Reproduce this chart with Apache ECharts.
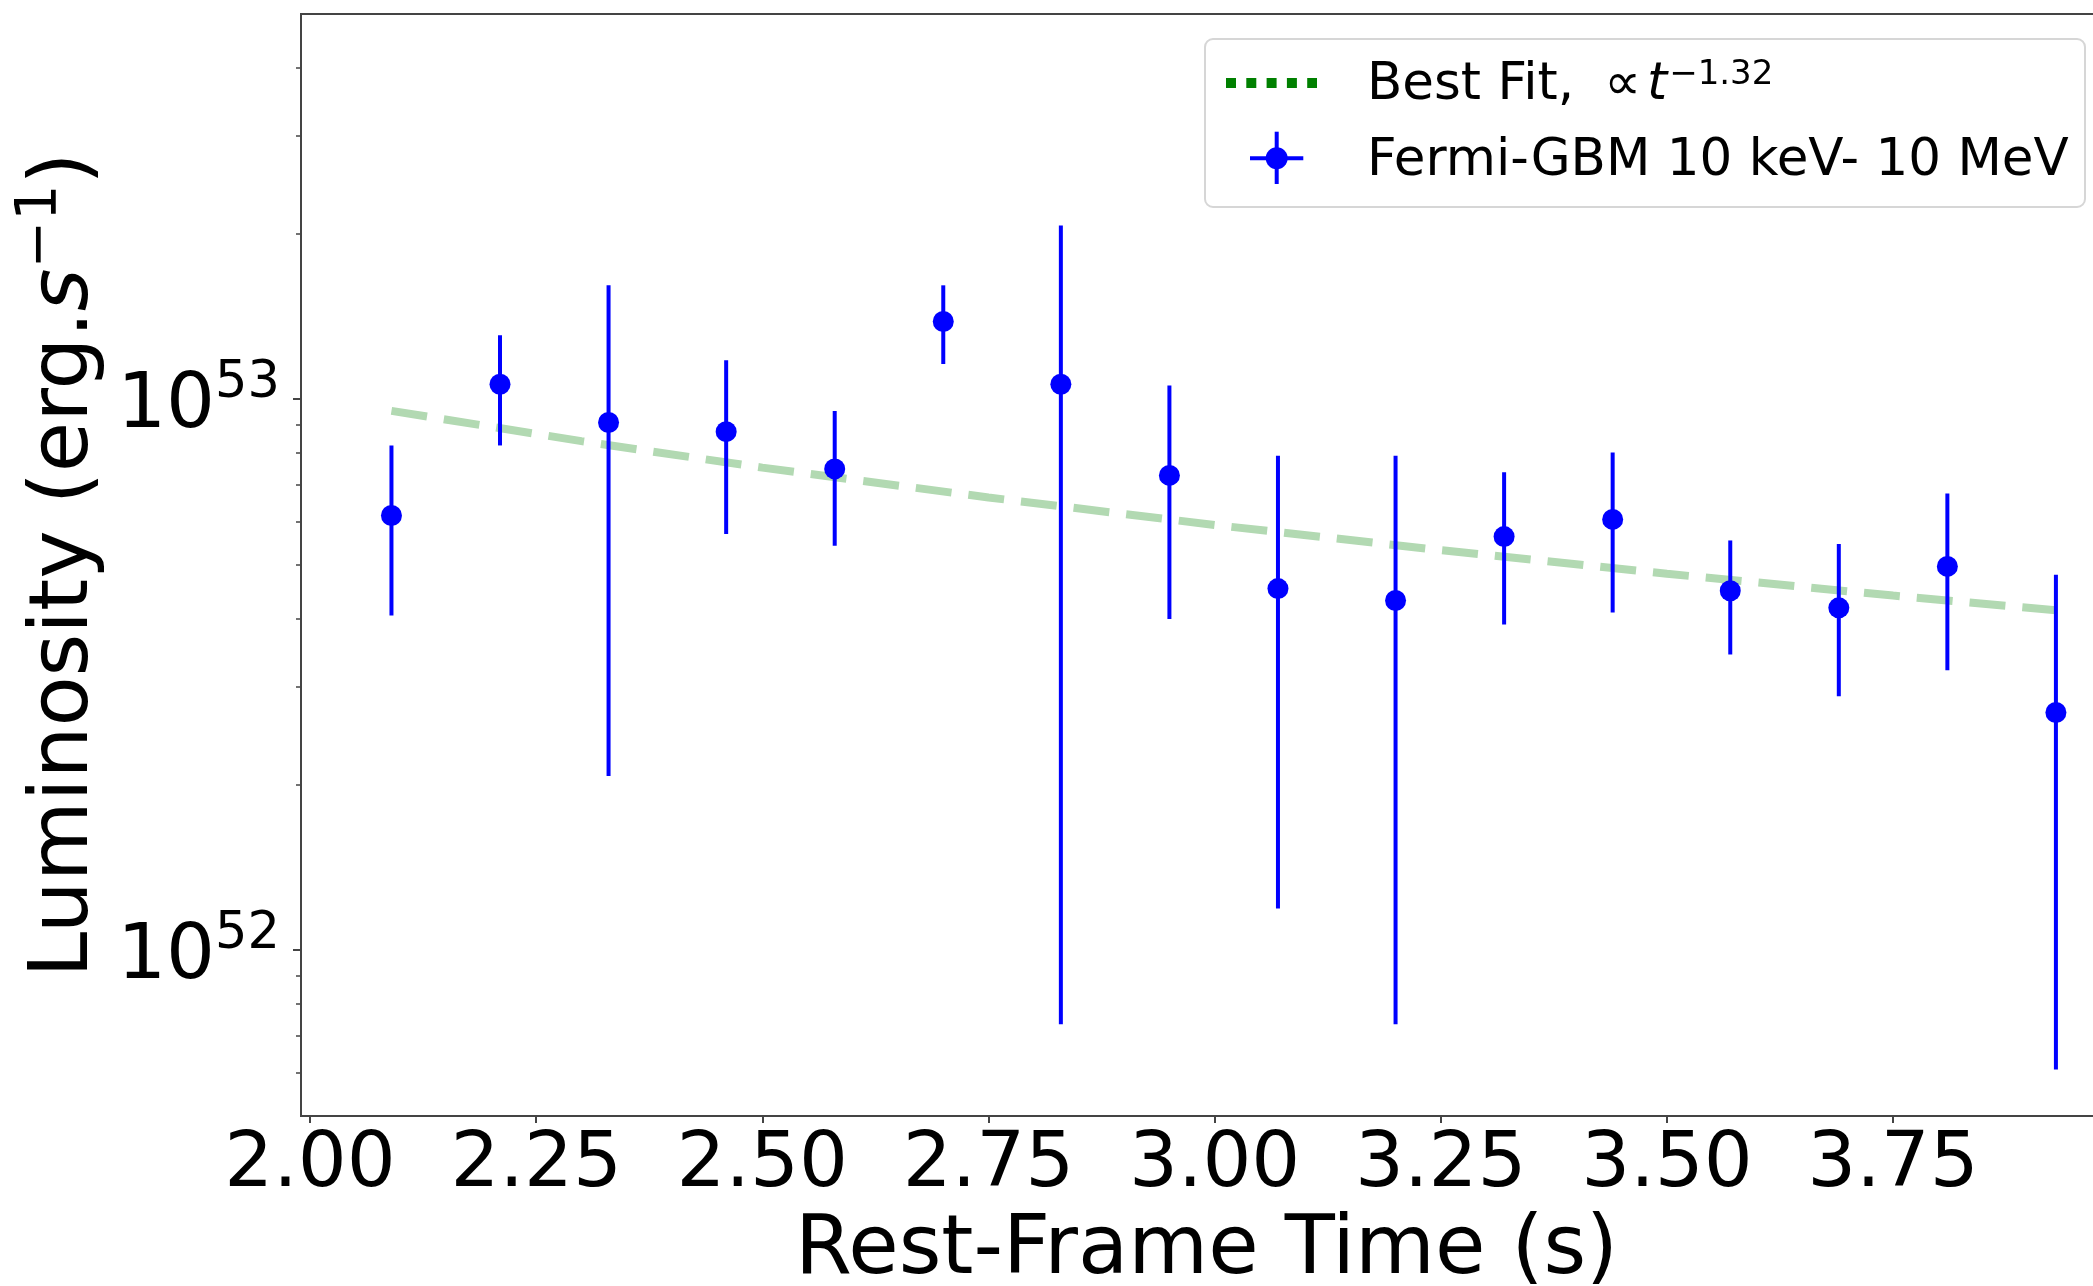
<!DOCTYPE html>
<html>
<head>
<meta charset="utf-8">
<script src="https://cdn.jsdelivr.net/npm/echarts@6/dist/echarts.min.js"></script>
<style>
  html, body { margin: 0; padding: 0; background: #ffffff; }
  #chart { width: 2093px; height: 1286px; }
</style>
</head>
<body>
<div id="chart"></div>
<script>
// Rest-frame time of each GBM bin (s)
const times = [2.09, 2.21, 2.33, 2.46, 2.58, 2.70, 2.83, 2.95, 3.07, 3.20, 3.32, 3.44, 3.57, 3.69, 3.81, 3.93];
// Luminosity (erg/s) and its upper / lower error limits
const lum     = [6.15e52, 10.64e52, 9.07e52, 8.73e52, 7.47e52, 13.83e52, 10.64e52, 7.27e52, 4.53e52, 4.31e52, 5.63e52, 6.05e52, 4.49e52, 4.18e52, 4.97e52, 2.70e52];
const lumHigh = [8.24e52, 13.06e52, 16.09e52, 11.76e52, 9.52e52, 16.09e52, 20.65e52, 10.59e52, 7.89e52, 7.89e52, 7.37e52, 8.00e52, 5.54e52, 5.46e52, 6.74e52, 4.80e52];
const lumLow  = [4.05e52, 8.24e52, 2.07e52, 5.69e52, 5.42e52, 11.58e52, 0.734e52, 3.99e52, 1.19e52, 0.734e52, 3.90e52, 4.10e52, 3.44e52, 2.89e52, 3.22e52, 0.607e52];
// Power-law best fit, sampled along the time range
const fitTime = [2.09, 2.30, 2.50, 2.75, 3.00, 3.25, 3.50, 3.75, 3.93];
const fitLum  = [9.52e52, 8.39e52, 7.51e52, 6.63e52, 5.91e52, 5.32e52, 4.82e52, 4.40e52, 4.14e52];
// Tick positions
const xTicks = [2.00, 2.25, 2.50, 2.75, 3.00, 3.25, 3.50, 3.75];
const yMajorTicks = [1e52, 1e53];
const yMinorTicks = [6e51, 7e51, 8e51, 9e51, 2e52, 3e52, 4e52, 5e52, 6e52, 7e52, 8e52, 9e52, 2e53, 3e53, 4e53];

const FONT = 'DejaVu Sans';
const AXIS_COLOR = '#444444';
const BLUE = '#0000ff';

const errData = times.map((t, i) => [t, lumLow[i], lumHigh[i]]);
const pointData = times.map((t, i) => [t, lum[i]]);
const fitData = fitTime.map((t, i) => [t, fitLum[i]]);

const gridRect = { left: 301, top: 14, right: -19, bottom: 170, outerBoundsMode: 'none' };
const xRange = { min: 1.990, max: 3.992 };
const yRange = { min: 5e51, max: 5e53 };

const chart = echarts.init(document.getElementById('chart'), null, { renderer: 'canvas' });

chart.setOption({
  animation: false,
  backgroundColor: '#ffffff',
  grid: [
    Object.assign({ show: true, borderColor: AXIS_COLOR, borderWidth: 2, backgroundColor: 'transparent' }, gridRect),
    Object.assign({ show: false }, gridRect)
  ],
  xAxis: [
    {
      type: 'value', gridIndex: 0, min: xRange.min, max: xRange.max,
      name: 'Rest-Frame Time (s)', nameLocation: 'middle', nameGap: 95,
      nameTextStyle: { fontFamily: FONT, fontSize: 82, color: '#000' },
      axisLine: { show: true, lineStyle: { color: AXIS_COLOR, width: 2 } },
      axisTick: { show: true, customValues: xTicks, length: 7, lineStyle: { color: AXIS_COLOR, width: 2 } },
      axisLabel: { customValues: xTicks, formatter: v => v.toFixed(2), fontFamily: FONT, fontSize: 77, color: '#000', margin: 11 },
      splitLine: { show: false }
    },
    {
      type: 'value', gridIndex: 1, min: xRange.min, max: xRange.max, show: false
    }
  ],
  yAxis: [
    {
      type: 'log', logBase: 10, gridIndex: 0, min: yRange.min, max: yRange.max,
      name: '{a|Luminosity (erg.}{i|s}{s|−1}{a|)}', nameLocation: 'middle', nameGap: 181, nameRotate: 90,
      nameTextStyle: {
        color: '#000',
        rich: {
          a: { fontFamily: FONT, fontSize: 82, color: '#000' },
          i: { fontFamily: FONT, fontSize: 82, fontStyle: 'italic', color: '#000' },
          s: { fontFamily: FONT, fontSize: 57, color: '#000', padding: [0, 0, 48, 0] }
        }
      },
      axisLine: { show: true, lineStyle: { color: AXIS_COLOR, width: 2 } },
      axisTick: { show: true, customValues: yMajorTicks, length: 8, lineStyle: { color: AXIS_COLOR, width: 2 } },
      axisLabel: {
        customValues: yMajorTicks, margin: 21,
        formatter: v => '{n|10}{s|' + Math.round(Math.log10(v)) + '}',
        rich: {
          n: { fontFamily: FONT, fontSize: 77, color: '#000', padding: [16, 0, 0, 0] },
          s: { fontFamily: FONT, fontSize: 51, color: '#000', padding: [0, 0, 30, 0] }
        }
      },
      splitLine: { show: false }
    },
    {
      type: 'log', logBase: 10, gridIndex: 1, min: yRange.min, max: yRange.max,
      axisLine: { show: false },
      axisTick: { show: true, customValues: yMinorTicks, length: 5, lineStyle: { color: AXIS_COLOR, width: 1.5 } },
      axisLabel: { show: false },
      splitLine: { show: false }
    }
  ],
  series: [
    {
      name: 'Best Fit',
      type: 'line', xAxisIndex: 0, yAxisIndex: 0,
      data: fitData, showSymbol: false, symbol: 'none',
      lineStyle: { color: '#b2d9b2', width: 8, type: [36, 17], cap: 'butt' },
      z: 2
    },
    {
      name: 'Fermi-GBM error',
      type: 'custom', xAxisIndex: 0, yAxisIndex: 0,
      data: errData,
      renderItem: function (params, api) {
        const top = api.coord([api.value(0), api.value(2)]);
        const bottom = api.coord([api.value(0), api.value(1)]);
        return {
          type: 'line',
          shape: { x1: top[0], y1: top[1], x2: bottom[0], y2: bottom[1] },
          style: { stroke: BLUE, lineWidth: 4 }
        };
      },
      z: 3
    },
    {
      name: 'Fermi-GBM 10 keV- 10 MeV',
      type: 'scatter', xAxisIndex: 0, yAxisIndex: 0,
      data: pointData, symbol: 'circle', symbolSize: 21,
      itemStyle: { color: BLUE, opacity: 1 },
      z: 4
    }
  ],
  graphic: [
    {
      type: 'group', z: 100,
      children: [
        { type: 'rect', shape: { x: 1205, y: 39, width: 880, height: 168, r: 8 },
          style: { fill: 'rgba(255,255,255,0.85)', stroke: '#d6d6d6', lineWidth: 2 } },
        { type: 'line', shape: { x1: 1226, y1: 83, x2: 1317, y2: 83 },
          style: { stroke: '#008000', lineWidth: 10, lineDash: [10, 10.3], lineCap: 'butt' } },
        { type: 'text', x: 1367, y: 86,
          style: {
            text: '{a|Best Fit,}{p|∝}{t|t}{s|−1.32}',
            verticalAlign: 'middle', align: 'left',
            rich: {
              a: { fontFamily: FONT, fontSize: 51.5, fill: '#000' },
              p: { fontFamily: FONT, fontSize: 51.5, fill: '#000', padding: [0, 0, 0, 30] },
              t: { fontFamily: FONT, fontSize: 51.5, fontStyle: 'italic', fill: '#000', padding: [0, 0, 0, 6] },
              s: { fontFamily: FONT, fontSize: 34, fill: '#000', padding: [0, 0, 22, 2] }
            }
          } },
        { type: 'line', shape: { x1: 1276.7, y1: 131.7, x2: 1276.7, y2: 184 },
          style: { stroke: BLUE, lineWidth: 4 } },
        { type: 'line', shape: { x1: 1250, y1: 158.3, x2: 1303.3, y2: 158.3 },
          style: { stroke: BLUE, lineWidth: 4 } },
        { type: 'circle', shape: { cx: 1276.7, cy: 158.3, r: 11 }, style: { fill: BLUE } },
        { type: 'text', x: 1367, y: 162,
          style: { text: 'Fermi-GBM 10 keV- 10 MeV', fontFamily: FONT, fontSize: 51.5, fill: '#000',
                   verticalAlign: 'middle', align: 'left' } }
      ]
    }
  ]
});
</script>
</body>
</html>
